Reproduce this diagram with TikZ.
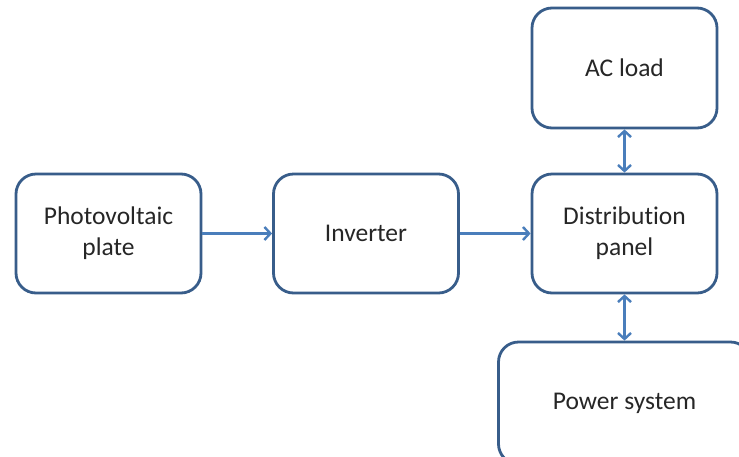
\documentclass[tikz,border=0pt]{standalone}
\usepackage{fontspec}
\setmainfont[Ligatures=NoCommon]{Carlito}
\usetikzlibrary{arrows.meta}
\definecolor{boxline}{HTML}{385D8A}
\definecolor{arrowc}{HTML}{4A7EBB}
\begin{document}
\begin{tikzpicture}[x=1pt,y=-1pt,
  blk/.style={draw=boxline,line width=2.8pt,rounded corners=20pt,fill=white,
    minimum width=185pt,minimum height=119pt,align=center,inner sep=0pt,
    font=\fontsize{25.5}{31}\selectfont,text=black!85},
  conn/.style={draw=arrowc,line width=2.6pt,-{Straight Barb[length=6pt,width=13pt,line width=2.4pt]}},
  biconn/.style={draw=arrowc,line width=2.6pt,{Straight Barb[length=6pt,width=13pt,line width=2.4pt]}-{Straight Barb[length=6pt,width=13pt,line width=2.4pt]}}]
\clip (0,0) rectangle (739,456);
\fill[white] (0,0) rectangle (739,456);
\node[blk] (pv) at (108.5,233.5) {Photovoltaic\\plate};
\node[blk] (inv) at (366,233.5) {Inverter};
\node[blk] (dist) at (624.5,233.5) {Distribution\\panel};
\node[blk,minimum height=120pt] (ac) at (624.5,68) {AC load};
\node[blk,minimum width=252pt,minimum height=122pt] (ps) at (624.5,403) {Power system};
\draw[conn] (pv.east) -- (inv.west);
\draw[conn] (inv.east) -- (dist.west);
\draw[biconn] (ac.south) -- (dist.north);
\draw[biconn] (dist.south) -- (ps.north);
\end{tikzpicture}
\end{document}
